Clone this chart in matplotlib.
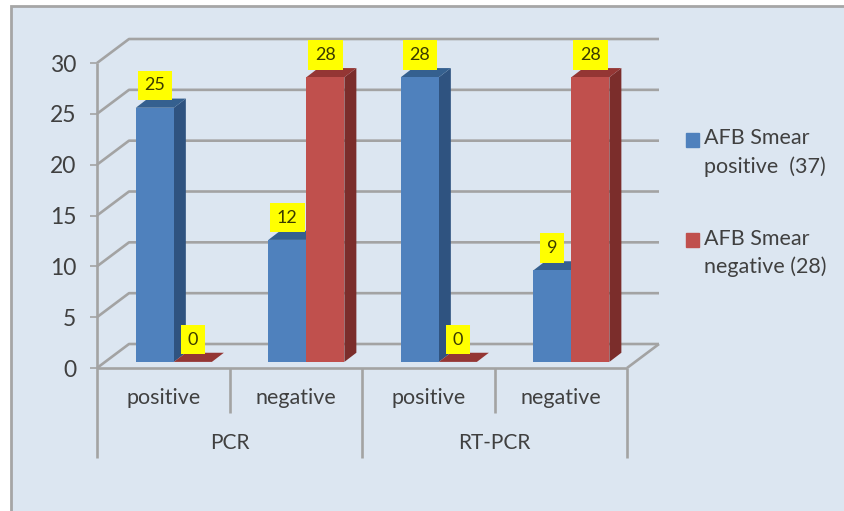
import matplotlib
matplotlib.use('Agg')
import matplotlib.pyplot as plt
from matplotlib.patches import Patch, Rectangle

plt.rcParams['font.family'] = ['Lato', 'DejaVu Sans']

categories = ['positive', 'negative', 'positive', 'negative']
groups = ['PCR', 'RT-PCR']
smear_positive = [25, 12, 28, 9]
smear_negative = [0, 28, 0, 28]
y_ticks = [0, 5, 10, 15, 20, 25, 30]
legend_labels = ['AFB Smear\npositive  (37)', 'AFB Smear\nnegative (28)']

W, H = 844, 511
BG = '#DCE6F1'
GREY = '#A3A3A3'
TEXT = '#404040'
BLUE, BLUE_SIDE, BLUE_TOP = '#4F81BD', '#2F5380', '#35608F'
RED, RED_SIDE, RED_TOP = '#C0504D', '#7B2D2B', '#943634'

# depth of the fake 3D box, in data units
WALL_DX, WALL_DY = 0.2415, 2.36
BAR_W = 0.287
BAR_SHIFT = 0.08
BAR_BASE = 0.6
BAR_DX, BAR_DY = 0.0905, 0.9


def draw_bars(ax, x, values, color, side, top):
    ax.bar(x, values, BAR_W, bottom=BAR_BASE, align='edge', color=color, zorder=4)
    for xi, v in zip(x, values):
        y0, y1 = BAR_BASE, BAR_BASE + v
        x1 = xi + BAR_W
        ax.fill([x1, x1 + BAR_DX, x1 + BAR_DX, x1],
                [y0, y0 + BAR_DY, y1 + BAR_DY, y1], color=side, lw=0, zorder=3)
        ax.fill([xi, xi + BAR_DX, x1 + BAR_DX, x1],
                [y1, y1 + BAR_DY, y1 + BAR_DY, y1], color=top, lw=0, zorder=3)


def add_labels(ax, x, values):
    for xi, v in zip(x, values):
        ax.text(xi + BAR_W / 2, BAR_BASE + v + 2.2, str(v), ha='center', va='center',
                fontsize=13, color='#3A3A00', zorder=6,
                bbox=dict(boxstyle='square,pad=0.38', fc='#FFFF00', ec='none'))


fig = plt.figure(figsize=(W / 100, H / 100), dpi=100, facecolor='white')
fig.add_artist(Rectangle((10.5 / W, -0.01), 0.99, (H - 6) / H + 0.01, transform=fig.transFigure,
                         fc=BG, ec='#A6A6A6', lw=2, zorder=-1))

ax = fig.add_axes([97 / W, (H - 368) / H, 530 / W, 305 / H])
ax.set_xlim(0, 4)
ax.set_ylim(0, 30)
ax.patch.set_visible(False)
for s in ax.spines.values():
    s.set_visible(False)

line = dict(color=GREY, lw=1.9, clip_on=False, zorder=1, solid_capstyle='butt')

# back wall and left wall lines
for t in y_ticks:
    ax.plot([0, WALL_DX, 4 + WALL_DX], [t, t + WALL_DY, t + WALL_DY], **line)
ax.plot([4, 4 + WALL_DX], [0, WALL_DY], **line)

# axis lines and the two-level category dividers
ax.plot([0, 4], [0, 0], **line)
ax.plot([0, 0], [-8.85, 30], **line)
for x in [2, 4]:
    ax.plot([x, x], [-8.85, 0], **line)
for x in [1, 3]:
    ax.plot([x, x], [-4.42, 0], **line)

ax.set_xticks([])
ax.set_yticks(y_ticks)
ax.tick_params(axis='y', length=5, width=1.2, color=GREY, pad=10,
               labelsize=16.5, labelcolor=TEXT)

pos = range(len(categories))
blue_x = [i + 0.5 + BAR_SHIFT - BAR_W for i in pos]
red_x = [i + 0.5 + BAR_SHIFT for i in pos]

draw_bars(ax, blue_x, smear_positive, BLUE, BLUE_SIDE, BLUE_TOP)
draw_bars(ax, red_x, smear_negative, RED, RED_SIDE, RED_TOP)
add_labels(ax, blue_x, smear_positive)
add_labels(ax, red_x, smear_negative)

for i, c in enumerate(categories):
    ax.text(i + 0.5, -2.95, c, ha='center', va='center', fontsize=15.5, color=TEXT)
for i, g in enumerate(groups):
    ax.text(i * 2 + 1, -7.37, g, ha='center', va='center', fontsize=15, color=TEXT)

handles = [Patch(color=BLUE), Patch(color=RED)]
leg = fig.legend(handles, legend_labels, loc='upper left', bbox_to_anchor=(686 / W, 1 - 128 / H),
                 frameon=False, fontsize=15.5, labelcolor=TEXT, handlelength=0.6, handleheight=0.6,
                 handletextpad=0.25, labelspacing=2.4, borderpad=0, borderaxespad=0)
for t in leg.get_texts():
    t.set_linespacing(1.5)
# swatch sits level with the first line of each entry
for h in leg.legend_handles:
    h.set_y(10)

fig.savefig('out.png', dpi=100, facecolor=fig.get_facecolor())
